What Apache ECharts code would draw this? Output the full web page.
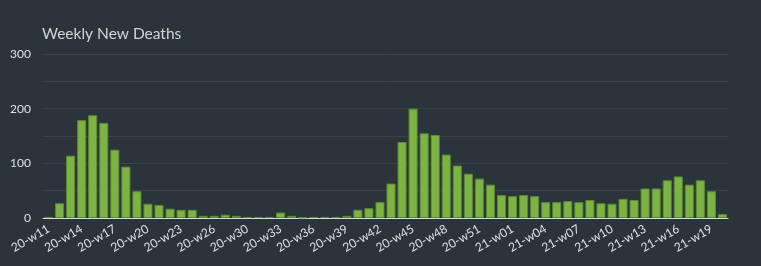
<!DOCTYPE html>
<html>
<head>
<meta charset="utf-8">
<script src="https://cdn.jsdelivr.net/npm/echarts@6/dist/echarts.min.js"></script>
<style>
html,body{margin:0;padding:0;background:#2b343b;}
#c{width:761px;height:266px;}
</style>
</head>
<body>
<div id="c"></div>
<script>
const titleText = 'Weekly New Deaths';
const weeks = [
  '20-w11','20-w12','20-w13','20-w14','20-w15','20-w16','20-w17','20-w18','20-w19','20-w20',
  '20-w21','20-w22','20-w23','20-w24','20-w25','20-w26','20-w27','20-w29','20-w30','20-w31',
  '20-w32','20-w33','20-w34','20-w35','20-w36','20-w37','20-w38','20-w39','20-w40','20-w41',
  '20-w42','20-w43','20-w44','20-w45','20-w46','20-w47','20-w48','20-w49','20-w50','20-w51',
  '20-w52','20-w53','21-w01','21-w02','21-w03','21-w04','21-w05','21-w06','21-w07','21-w08',
  '21-w09','21-w10','21-w11','21-w12','21-w13','21-w14','21-w15','21-w16','21-w17','21-w18',
  '21-w19','21-w20'
];
const deaths = [
  2,27,114,179,188,174,125,94,49,26,
  24,17,15,15,4,4,6,4,2,2,
  2,10,4,1,2,2,2,4,15,18,
  29,63,139,200,155,152,116,96,81,72,
  61,42,40,42,40,29,29,31,29,33,
  27,26,35,33,54,54,69,76,61,69,
  49,7
];
const yTicks = [0,100,200,300];

const chart = echarts.init(document.getElementById('c'), null, {renderer:'canvas'});
chart.setOption({
  backgroundColor:'#2b343b',
  animation:false,
  title:{
    text:titleText,
    left:37, top:21,
    textStyle:{color:'#d4d4d4', fontFamily:'Lato', fontSize:15.5, fontWeight:'normal'}
  },
  grid:{left:43, right:33, top:54, bottom:48},
  xAxis:{
    type:'category',
    data:weeks,
    axisLine:{lineStyle:{color:'#d8d8d8', width:1}},
    axisTick:{show:false},
    axisLabel:{
      interval:2, rotate:30, color:'#e0e0e0', fontFamily:'Lato', fontSize:12, margin:10
    }
  },
  yAxis:{
    type:'value',
    min:0, max:300, interval:50,
    axisLine:{show:false},
    axisTick:{show:false},
    splitLine:{lineStyle:{color:'#3a4349', width:1}},
    axisLabel:{
      color:'#e0e0e0', fontFamily:'Lato', fontSize:12, margin:12,
      formatter:v => yTicks.includes(v) ? String(v) : ''
    }
  },
  series:[{
    type:'bar',
    data:deaths,
    barCategoryGap:'18%',
    itemStyle:{color:'#7cb342', borderColor:'#5b8a32', borderWidth:1}
  }]
});
</script>
</body>
</html>
